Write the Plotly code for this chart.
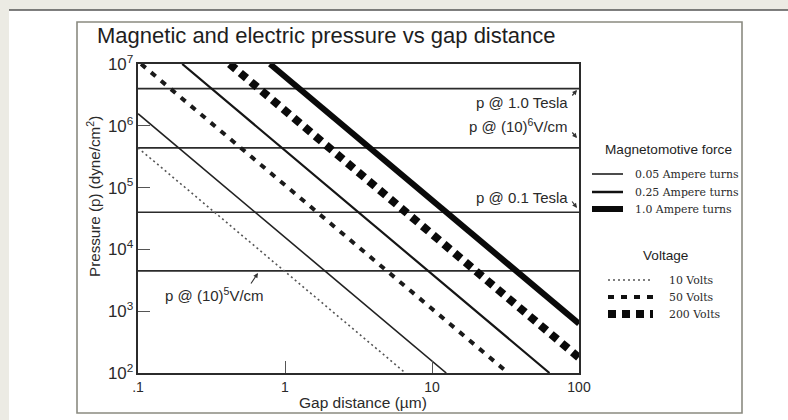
import plotly.graph_objects as go

# ---- data ----
x_ticks = [0.1, 1, 10, 100]
x_tick_text = [".1", "1", "10", "100"]

# reference pressure levels (dyne/cm^2)
level_names = ["p @ 1.0 Tesla", "p @ (10)<sup>6</sup>V/cm", "p @ 0.1 Tesla", "p @ (10)<sup>5</sup>V/cm"]
level_values = [4.0e6, 4.4e5, 4.0e4, 4.5e3]
level_x = [0.1, 100]

# diagonal lines: endpoints (gap in µm, pressure)
gap_10V = [0.1, 6.6]
p_10V = [4.4e5, 100]
gap_005A = [0.1, 12.5]
p_005A = [1.57e6, 100]
gap_50V = [0.105, 33]
p_50V = [1.0e7, 100]
gap_025A = [0.2, 63]
p_025A = [1.0e7, 100]
gap_200V = [0.42, 100]
p_200V = [1.0e7, 177]
gap_1A = [0.79, 100]
p_1A = [1.0e7, 628]

SANS = "Liberation Sans, Arial, sans-serif"
SERIF = "DejaVu Serif, serif"
INK = "#1a1a1a"

fig = go.Figure()

for v in level_values:
    fig.add_trace(go.Scatter(x=level_x, y=[v, v], mode="lines",
                             line=dict(color="#2b2b2b", width=1.6),
                             hoverinfo="skip", showlegend=False))

series = [
    (gap_10V, p_10V, dict(color="#555555", width=1.6, dash="2px,3px")),
    (gap_005A, p_005A, dict(color="#222222", width=1.6)),
    (gap_50V, p_50V, dict(color=INK, width=4, dash="6px,7px")),
    (gap_025A, p_025A, dict(color="#151515", width=2.2)),
    (gap_200V, p_200V, dict(color="#0a0a0a", width=8, dash="8px,6px")),
    (gap_1A, p_1A, dict(color="#0a0a0a", width=6)),
]
for gx, py, ln in series:
    fig.add_trace(go.Scatter(x=gx, y=py, mode="lines", line=ln,
                             hoverinfo="skip", showlegend=False))

annotations = []
shapes = []


def px(x):
    return (x - 138) / 441


def py_(y):
    return (373 - y) / 309


# background strips (scan look) and outer frame
shapes.append(dict(type="rect", xref="paper", yref="paper", x0=px(0), x1=px(788),
                   y0=py_(10), y1=py_(0), fillcolor="#ecebe4", line=dict(width=0), layer="below"))
shapes.append(dict(type="rect", xref="paper", yref="paper", x0=px(0), x1=px(9),
                   y0=py_(420), y1=py_(0), fillcolor="#ecebe4", line=dict(width=0), layer="below"))
shapes.append(dict(type="line", xref="paper", yref="paper", x0=px(9), x1=px(788), y0=py_(10), y1=py_(10),
                   line=dict(color="#555555", width=1.5)))
shapes.append(dict(type="rect", xref="paper", yref="paper", x0=px(77), x1=px(742), y0=py_(413), y1=py_(22),
                   line=dict(color="#8a8a80", width=1.6), layer="below"))

# title
annotations.append(dict(text="Magnetic and electric pressure vs gap distance", xref="paper", yref="paper",
                        x=px(95), y=py_(36), xanchor="left", yanchor="middle", showarrow=False,
                        font=dict(family=SANS, size=22, color="#1e1e1e")))
# axis titles
annotations.append(dict(text="Gap distance (µm)", xref="paper", yref="paper", x=px(363), y=py_(402),
                        xanchor="center", yanchor="middle", showarrow=False,
                        font=dict(family=SANS, size=15.5, color="#2a2a2a")))
annotations.append(dict(text="Pressure (p) (dyne/cm<sup>2</sup>)", xref="paper", yref="paper", x=px(93),
                        y=py_(197), xanchor="center", yanchor="middle", textangle=-90, showarrow=False,
                        font=dict(family=SANS, size=15.2, color="#2a2a2a")))

# level labels
lbl_font = dict(family=SANS, size=15, color="#2a2a2a")
annotations.append(dict(text=level_names[0], xref="paper", yref="paper", x=px(570), y=py_(102),
                        xanchor="right", yanchor="middle", showarrow=False, font=lbl_font))
annotations.append(dict(text=level_names[1], xref="paper", yref="paper", x=px(570), y=py_(126),
                        xanchor="right", yanchor="middle", showarrow=False, font=lbl_font))
annotations.append(dict(text=level_names[2], xref="paper", yref="paper", x=px(570), y=py_(197),
                        xanchor="right", yanchor="middle", showarrow=False, font=lbl_font))
annotations.append(dict(text=level_names[3], xref="paper", yref="paper", x=px(163), y=py_(294),
                        xanchor="left", yanchor="middle", showarrow=False, font=lbl_font))
# little arrows
arrow_defs = [((571, 97), (577, 90)), ((571, 131), (577, 138)), ((571, 200), (577, 208)),
              ((250, 285), (258, 273))]
for (tx, ty), (hx, hy) in arrow_defs:
    annotations.append(dict(text="", xref="paper", yref="paper", x=px(hx), y=py_(hy),
                            axref="pixel", ayref="pixel", ax=tx - hx, ay=ty - hy,
                            showarrow=True, arrowhead=2, arrowsize=0.8, arrowwidth=1.2,
                            arrowcolor="#333333"))

# custom legend
annotations.append(dict(text="Magnetomotive force", xref="paper", yref="paper", x=px(668), y=py_(149),
                        xanchor="center", yanchor="middle", showarrow=False,
                        font=dict(family=SANS, size=13.6, color="#1e1e1e")))
annotations.append(dict(text="Voltage", xref="paper", yref="paper", x=px(665), y=py_(255),
                        xanchor="center", yanchor="middle", showarrow=False,
                        font=dict(family=SANS, size=13.6, color="#1e1e1e")))
leg_font = dict(family=SERIF, size=10.9, color="#2a2a2a")
mag_items = [("0.05 Ampere turns", 174, dict(color="#111111", width=1.5)),
             ("0.25 Ampere turns", 192, dict(color="#111111", width=2.5)),
             ("1.0 Ampere turns", 209, dict(color="#0a0a0a", width=6))]
for txt, yy, ln in mag_items:
    shapes.append(dict(type="line", xref="paper", yref="paper", x0=px(592), x1=px(623),
                       y0=py_(yy), y1=py_(yy), line=ln))
    annotations.append(dict(text=txt, xref="paper", yref="paper", x=px(633), y=py_(yy),
                            xanchor="left", yanchor="middle", showarrow=False, font=leg_font))
volt_items = [("10 Volts", 280, dict(color="#555555", width=1.6, dash="2px,3px")),
              ("50 Volts", 297, dict(color="#111111", width=4, dash="6px,7px")),
              ("200 Volts", 314, dict(color="#0a0a0a", width=8, dash="8px,6px"))]
for txt, yy, ln in volt_items:
    shapes.append(dict(type="line", xref="paper", yref="paper", x0=px(608), x1=px(653),
                       y0=py_(yy), y1=py_(yy), line=ln))
    annotations.append(dict(text=txt, xref="paper", yref="paper", x=px(667), y=py_(yy),
                            xanchor="left", yanchor="middle", showarrow=False, font=leg_font))

fig.update_layout(
    width=788, height=420,
    margin=dict(l=138, r=209, t=64, b=47),
    paper_bgcolor="white", plot_bgcolor="white",
    showlegend=False,
    annotations=annotations, shapes=shapes,
    xaxis=dict(type="log", range=[-1, 2], tickvals=x_ticks, ticktext=x_tick_text,
               showgrid=False, zeroline=False, showline=True, mirror=True,
               linecolor="#2b2b2b", linewidth=2, ticks="inside", ticklen=12, tickwidth=1.2,
               tickcolor="#555555", tickfont=dict(family=SANS, size=14, color="#2a2a2a")),
    yaxis=dict(type="log", range=[2, 7], dtick=1, exponentformat="power",
               showgrid=False, zeroline=False, showline=True, mirror=True,
               linecolor="#2b2b2b", linewidth=2, ticks="inside", ticklen=12, tickwidth=1.2,
               tickcolor="#555555", tickfont=dict(family=SANS, size=13.5, color="#2a2a2a")),
)

fig.write_html("out.html")
